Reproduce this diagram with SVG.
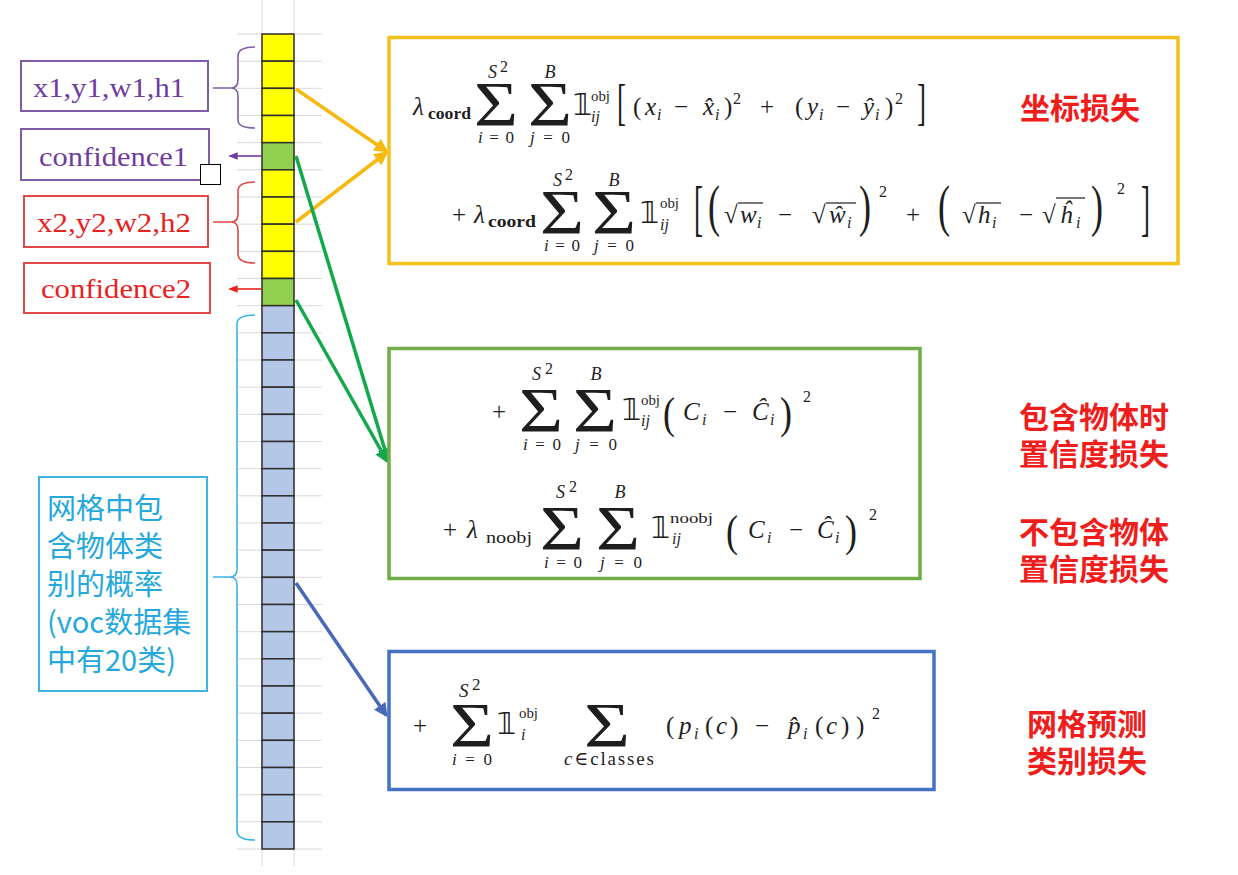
<svg xmlns="http://www.w3.org/2000/svg" width="1238" height="875" viewBox="0 0 1238 875">
<style>
.f{font-family:"Liberation Serif","DejaVu Serif",serif;fill:#1e1e1e}
.t{font-size:25px}
.it{font-style:italic}
.s{font-size:18px}
.sb{font-size:16px}
.lim{font-size:17px}
.sup{font-size:14px}
.sig{font-size:64px}
.one{font-family:"DejaVu Sans","DejaVu Serif",sans-serif;font-size:30px;fill:#1e1e1e}
.big{font-size:36px}
.ov{stroke:#1e1e1e;stroke-width:1.2}
.cell{stroke:#2e2e2e;stroke-width:1.5}
.cy{fill:#ffff00}.cg{fill:#92d050}.cb{fill:#b4c7e7}
.grid{stroke:#d9d9d9;stroke-width:1}
.lbl{font-family:"Liberation Serif","DejaVu Serif",serif;font-size:28px}
.cn{font-family:"Noto Sans CJK SC","Noto Sans",sans-serif}
.red{font-family:"Noto Sans CJK SC","Noto Sans",sans-serif;font-size:30px;font-weight:bold;fill:#f01d1d}
</style>
<defs>
<marker id="ao" viewBox="0 0 10 10" refX="8" refY="5" markerWidth="4" markerHeight="4" orient="auto" markerUnits="strokeWidth"><path d="M0,0 L10,5 L0,10 z" fill="#f5b90f"/></marker>
<marker id="ag" viewBox="0 0 10 10" refX="8" refY="5" markerWidth="4" markerHeight="4" orient="auto" markerUnits="strokeWidth"><path d="M0,0 L10,5 L0,10 z" fill="#12a84b"/></marker>
<marker id="ab" viewBox="0 0 10 10" refX="8" refY="5" markerWidth="4" markerHeight="4" orient="auto" markerUnits="strokeWidth"><path d="M0,0 L10,5 L0,10 z" fill="#4a68b8"/></marker>
<marker id="ap" viewBox="0 0 10 10" refX="8" refY="5" markerWidth="6" markerHeight="6" orient="auto" markerUnits="strokeWidth"><path d="M0,1 L10,5 L0,9 z" fill="#6f3da0"/></marker>
<marker id="ar" viewBox="0 0 10 10" refX="8" refY="5" markerWidth="6" markerHeight="6" orient="auto" markerUnits="strokeWidth"><path d="M0,1 L10,5 L0,9 z" fill="#e8221f"/></marker>
</defs>
<rect width="1238" height="875" fill="#ffffff"/>

<g id="grid">
<line class="grid" x1="262" y1="0" x2="262" y2="866"/>
<line class="grid" x1="294" y1="0" x2="294" y2="866"/>
<path class="grid" d="M237,34H322M237,61.17H322M237,88.33H322M237,115.5H322M237,142.67H322M237,169.83H322M237,197H322M237,224.17H322M237,251.33H322M237,278.5H322M237,305.67H322M237,332.83H322M237,360H322M237,387.17H322M237,414.33H322M237,441.5H322M237,468.67H322M237,495.83H322M237,523H322M237,550.17H322M237,577.33H322M237,604.5H322M237,631.67H322M237,658.83H322M237,686H322M237,713.17H322M237,740.33H322M237,767.5H322M237,794.67H322M237,821.83H322M237,849H322"/>
</g>

<g id="vector">
<rect class="cell cy" x="262" y="34" width="32" height="27.17"/>
<rect class="cell cy" x="262" y="61.17" width="32" height="27.17"/>
<rect class="cell cy" x="262" y="88.33" width="32" height="27.17"/>
<rect class="cell cy" x="262" y="115.5" width="32" height="27.17"/>
<rect class="cell cg" x="262" y="142.67" width="32" height="27.17"/>
<rect class="cell cy" x="262" y="169.83" width="32" height="27.17"/>
<rect class="cell cy" x="262" y="197" width="32" height="27.17"/>
<rect class="cell cy" x="262" y="224.17" width="32" height="27.17"/>
<rect class="cell cy" x="262" y="251.33" width="32" height="27.17"/>
<rect class="cell cg" x="262" y="278.5" width="32" height="27.17"/>
<rect class="cell cb" x="262" y="305.67" width="32" height="27.17"/>
<rect class="cell cb" x="262" y="332.83" width="32" height="27.17"/>
<rect class="cell cb" x="262" y="360" width="32" height="27.17"/>
<rect class="cell cb" x="262" y="387.17" width="32" height="27.17"/>
<rect class="cell cb" x="262" y="414.33" width="32" height="27.17"/>
<rect class="cell cb" x="262" y="441.5" width="32" height="27.17"/>
<rect class="cell cb" x="262" y="468.67" width="32" height="27.17"/>
<rect class="cell cb" x="262" y="495.83" width="32" height="27.17"/>
<rect class="cell cb" x="262" y="523" width="32" height="27.17"/>
<rect class="cell cb" x="262" y="550.17" width="32" height="27.17"/>
<rect class="cell cb" x="262" y="577.33" width="32" height="27.17"/>
<rect class="cell cb" x="262" y="604.5" width="32" height="27.17"/>
<rect class="cell cb" x="262" y="631.67" width="32" height="27.17"/>
<rect class="cell cb" x="262" y="658.83" width="32" height="27.17"/>
<rect class="cell cb" x="262" y="686" width="32" height="27.17"/>
<rect class="cell cb" x="262" y="713.17" width="32" height="27.17"/>
<rect class="cell cb" x="262" y="740.33" width="32" height="27.17"/>
<rect class="cell cb" x="262" y="767.5" width="32" height="27.17"/>
<rect class="cell cb" x="262" y="794.67" width="32" height="27.17"/>
<rect class="cell cb" x="262" y="821.83" width="32" height="27.17"/>
</g>

<g id="box1-label">
<rect x="21" y="61" width="187" height="50" fill="#fff" stroke="#7e5ca8" stroke-width="2"/>
<text class="lbl" x="33" y="97" fill="#6f3da0" textLength="152" lengthAdjust="spacingAndGlyphs">x1,y1,w1,h1</text>
</g>
<g id="conf1-label">
<rect x="21" y="129" width="188" height="51" fill="#fff" stroke="#7e5ca8" stroke-width="2"/>
<text class="lbl" x="39" y="166" fill="#6f3da0" textLength="149" lengthAdjust="spacingAndGlyphs">confidence1</text>
</g>
<g id="box2-label">
<rect x="24" y="196" width="184" height="51" fill="#fff" stroke="#e04848" stroke-width="2"/>
<text class="lbl" x="37" y="232" fill="#e8221f" textLength="154" lengthAdjust="spacingAndGlyphs">x2,y2,w2,h2</text>
</g>
<g id="conf2-label">
<rect x="24" y="263" width="186" height="50" fill="#fff" stroke="#e04848" stroke-width="2"/>
<text class="lbl" x="41" y="298" fill="#e8221f" textLength="150" lengthAdjust="spacingAndGlyphs">confidence2</text>
</g>
<g id="marker-square">
<rect x="200.5" y="164.5" width="20" height="20" fill="#fff" stroke="#000" stroke-width="1"/>
</g>
<g id="class-label">
<rect x="39" y="477" width="168" height="214" fill="#fff" stroke="#3db4e2" stroke-width="2"/>
<g class="cn" font-size="29" fill="#25a8dc">
<text x="47" y="519">网格中包</text>
<text x="47" y="557">含物体类</text>
<text x="47" y="595">别的概率</text>
<text x="47" y="633">(voc数据集</text>
<text x="47" y="671">中有20类)</text>
</g>
</g>

<g id="connectors" fill="none">
<path d="M255,47 Q238,47 238,56 L238,80 Q238,88 231,88 Q238,88 238,96 L238,120 Q238,128 255,128 M213,88 L231,88" stroke="#7e5ca8" stroke-width="1.6"/>
<path d="M255,182 Q238,182 238,191 L238,214 Q238,222 231,222 Q238,222 238,230 L238,254 Q238,263 255,263 M213,222 L231,222" stroke="#e04848" stroke-width="1.6"/>
<path d="M255,315 Q237,315 237,324 L237,569 Q237,577 230,577 Q237,577 237,585 L237,831 Q237,840 255,840 M213,577 L230,577" stroke="#3db4e2" stroke-width="1.6"/>
<line x1="262" y1="156" x2="230" y2="156" stroke="#6f3da0" stroke-width="1.6" marker-end="url(#ap)"/>
<line x1="262" y1="289" x2="230" y2="289" stroke="#e8221f" stroke-width="1.6" marker-end="url(#ar)"/>
<line x1="296" y1="89" x2="386" y2="151" stroke="#f5b90f" stroke-width="3.5" marker-end="url(#ao)"/>
<line x1="296" y1="222" x2="386" y2="153" stroke="#f5b90f" stroke-width="3.5" marker-end="url(#ao)"/>
<line x1="296" y1="156" x2="388" y2="460" stroke="#12a84b" stroke-width="3.5" marker-end="url(#ag)"/>
<line x1="296" y1="300" x2="387" y2="461" stroke="#12a84b" stroke-width="3.5" marker-end="url(#ag)"/>
<line x1="296" y1="583" x2="386" y2="715" stroke="#4a68b8" stroke-width="3.5" marker-end="url(#ab)"/>
</g>

<g id="coord-loss">
<rect x="389" y="37.5" width="789" height="226" fill="#fff" stroke="#f5c01a" stroke-width="3.5"/>
<text class="f t it" x="413" y="115">λ</text>
<text class="f sb" font-weight="bold" x="428" y="119" textLength="43" lengthAdjust="spacingAndGlyphs">coord</text>
<text class="f sig" x="474" y="126" textLength="44" lengthAdjust="spacingAndGlyphs">Σ</text>
<text class="f s it" x="488" y="78">S</text>
<text class="f sb" x="500" y="72">2</text>
<text class="f lim" x="496" y="143" text-anchor="middle" textLength="36"><tspan font-style="italic">i</tspan>=0</text>
<text class="f sig" x="528" y="126" textLength="44" lengthAdjust="spacingAndGlyphs">Σ</text>
<text class="f s it" x="550" y="78" text-anchor="middle">B</text>
<text class="f lim" x="550" y="143" text-anchor="middle" textLength="40"><tspan font-style="italic">j</tspan>=0</text>
<text class="one" x="573" y="115">𝟙</text>
<text class="f sup" x="591" y="101" textLength="19" lengthAdjust="spacingAndGlyphs">obj</text>
<text class="f sb it" x="591" y="122">ij</text>
<text class="f big" transform="translate(617,119) scale(0.75,1.4)">[</text>
<text class="f t" x="633" y="115">(</text>
<text class="f t it" x="645" y="115">x</text>
<text class="f sb it" x="657" y="120">i</text>
<text class="f t" x="674" y="115">−</text>
<text class="f t it" x="703" y="115">x&#770;</text>
<text class="f sb it" x="715" y="120">i</text>
<text class="f t" x="724" y="115">)</text>
<text class="f sb" x="733" y="104">2</text>
<text class="f t" x="760" y="115">+</text>
<text class="f t" x="795" y="115">(</text>
<text class="f t it" x="807" y="115">y</text>
<text class="f sb it" x="819" y="120">i</text>
<text class="f t" x="836" y="115">−</text>
<text class="f t it" x="863" y="115">ŷ</text>
<text class="f sb it" x="875" y="120">i</text>
<text class="f t" x="885" y="115">)</text>
<text class="f sb" x="895" y="104">2</text>
<text class="f big" transform="translate(917,119) scale(0.75,1.4)">]</text>

<text class="f t" x="452" y="223">+</text>
<text class="f t it" x="474" y="223">λ</text>
<text class="f sb" font-weight="bold" x="488" y="227" textLength="48" lengthAdjust="spacingAndGlyphs">coord</text>
<text class="f sig" x="540" y="234" textLength="44" lengthAdjust="spacingAndGlyphs">Σ</text>
<text class="f s it" x="553" y="186">S</text>
<text class="f sb" x="565" y="180">2</text>
<text class="f lim" x="562" y="251" text-anchor="middle" textLength="36"><tspan font-style="italic">i</tspan>=0</text>
<text class="f sig" x="592" y="234" textLength="44" lengthAdjust="spacingAndGlyphs">Σ</text>
<text class="f s it" x="614" y="186" text-anchor="middle">B</text>
<text class="f lim" x="614" y="251" text-anchor="middle" textLength="40"><tspan font-style="italic">j</tspan>=0</text>
<text class="one" x="640" y="223">𝟙</text>
<text class="f sup" x="660" y="208" textLength="19" lengthAdjust="spacingAndGlyphs">obj</text>
<text class="f sb it" x="660" y="230">ij</text>
<text class="f big" transform="translate(694,229) scale(0.75,1.7)">[</text>
<text class="f big" transform="translate(708,225) scale(1,1.6)">(</text>
<text class="f t" x="724" y="223">√</text>
<line class="ov" x1="738" y1="203" x2="763" y2="203"/>
<text class="f t it" x="740" y="223">w</text>
<text class="f sb it" x="757" y="228">i</text>
<text class="f t" x="778" y="223">−</text>
<text class="f t" x="812" y="223">√</text>
<line class="ov" x1="826" y1="203" x2="856" y2="203"/>
<text class="f t it" x="829" y="223">ŵ</text>
<text class="f sb it" x="847" y="228">i</text>
<text class="f big" transform="translate(859,225) scale(1,1.6)">)</text>
<text class="f sb" x="879" y="197">2</text>
<text class="f t" x="906" y="223">+</text>
<text class="f big" transform="translate(938,225) scale(1,1.6)">(</text>
<text class="f t" x="962" y="223">√</text>
<line class="ov" x1="976" y1="203" x2="1001" y2="203"/>
<text class="f t it" x="978" y="223">h</text>
<text class="f sb it" x="992" y="228">i</text>
<text class="f t" x="1019" y="223">−</text>
<text class="f t" x="1042" y="223">√</text>
<line class="ov" x1="1056" y1="198" x2="1085" y2="198"/>
<text class="f t it" x="1060" y="223">ĥ</text>
<text class="f sb it" x="1076" y="228">i</text>
<text class="f big" transform="translate(1091,225) scale(1,1.6)">)</text>
<text class="f sb" x="1117" y="194">2</text>
<text class="f big" transform="translate(1141,229) scale(0.75,1.7)">]</text>
</g>

<g id="conf-loss">
<rect x="389" y="348.5" width="531" height="230" fill="#fff" stroke="#70ad47" stroke-width="3.5"/>
<text class="f t" x="492" y="420">+</text>
<text class="f sig" x="519" y="432" textLength="44" lengthAdjust="spacingAndGlyphs">Σ</text>
<text class="f s it" x="532" y="380">S</text>
<text class="f sb" x="545" y="374">2</text>
<text class="f lim" x="542" y="450" text-anchor="middle" textLength="38"><tspan font-style="italic">i</tspan>=0</text>
<text class="f sig" x="573" y="432" textLength="44" lengthAdjust="spacingAndGlyphs">Σ</text>
<text class="f s it" x="596" y="380" text-anchor="middle">B</text>
<text class="f lim" x="596" y="450" text-anchor="middle" textLength="42"><tspan font-style="italic">j</tspan>=0</text>
<text class="one" x="622" y="420">𝟙</text>
<text class="f sup" x="641" y="405" textLength="19" lengthAdjust="spacingAndGlyphs">obj</text>
<text class="f sb it" x="641" y="426">ij</text>
<text class="f big" transform="translate(663,428) scale(1,1.25)">(</text>
<text class="f t it" x="683" y="420">C</text>
<text class="f sb it" x="702" y="425">i</text>
<text class="f t" x="723" y="420">−</text>
<text class="f t it" x="752" y="420">Ĉ</text>
<text class="f sb it" x="770" y="425">i</text>
<text class="f big" transform="translate(780,428) scale(1,1.25)">)</text>
<text class="f sb" x="803" y="402">2</text>

<text class="f t" x="443" y="538">+</text>
<text class="f t it" x="467" y="538">λ</text>
<text class="f sb" x="486" y="543" textLength="46" lengthAdjust="spacingAndGlyphs">noobj</text>
<text class="f sig" x="540" y="550" textLength="44" lengthAdjust="spacingAndGlyphs">Σ</text>
<text class="f s it" x="556" y="498">S</text>
<text class="f sb" x="569" y="492">2</text>
<text class="f lim" x="563" y="568" text-anchor="middle" textLength="38"><tspan font-style="italic">i</tspan>=0</text>
<text class="f sig" x="596" y="550" textLength="44" lengthAdjust="spacingAndGlyphs">Σ</text>
<text class="f s it" x="620" y="498" text-anchor="middle">B</text>
<text class="f lim" x="621" y="568" text-anchor="middle" textLength="42"><tspan font-style="italic">j</tspan>=0</text>
<text class="one" x="651" y="538">𝟙</text>
<text class="f sup" x="670" y="523" textLength="43" lengthAdjust="spacingAndGlyphs">noobj</text>
<text class="f sb it" x="672" y="544">ij</text>
<text class="f big" transform="translate(726,546) scale(1,1.25)">(</text>
<text class="f t it" x="748" y="538">C</text>
<text class="f sb it" x="767" y="543">i</text>
<text class="f t" x="789" y="538">−</text>
<text class="f t it" x="817" y="538">Ĉ</text>
<text class="f sb it" x="835" y="543">i</text>
<text class="f big" transform="translate(845,546) scale(1,1.25)">)</text>
<text class="f sb" x="869" y="520">2</text>
</g>

<g id="class-loss">
<rect x="389" y="651.5" width="545" height="138" fill="#fff" stroke="#4472c4" stroke-width="3.5"/>
<text class="f t" x="413" y="734">+</text>
<text class="f sig" x="450" y="747" textLength="44" lengthAdjust="spacingAndGlyphs">Σ</text>
<text class="f it" font-size="19" x="459" y="697">S</text>
<text class="f" font-size="17" x="472" y="690">2</text>
<text class="f lim" x="472" y="765" text-anchor="middle" textLength="40"><tspan font-style="italic">i</tspan>=0</text>
<text class="one" x="497" y="734">𝟙</text>
<text class="f sup" x="519" y="718" textLength="19" lengthAdjust="spacingAndGlyphs">obj</text>
<text class="f sb it" x="521" y="740">i</text>
<text class="f sig" x="584" y="747" textLength="46" lengthAdjust="spacingAndGlyphs">Σ</text>
<text class="f" font-size="19" x="609" y="765" text-anchor="middle" textLength="90"><tspan font-style="italic">c</tspan>∈classes</text>
<text class="f t" x="666" y="734">(</text>
<text class="f t it" x="679" y="734">p</text>
<text class="f sb it" x="694" y="739">i</text>
<text class="f t" x="705" y="734">(</text>
<text class="f t it" x="716" y="734">c</text>
<text class="f t" x="730" y="734">)</text>
<text class="f t" x="755" y="734">−</text>
<text class="f t it" x="788" y="734">p&#770;</text>
<text class="f sb it" x="803" y="739">i</text>
<text class="f t" x="815" y="734">(</text>
<text class="f t it" x="826" y="734">c</text>
<text class="f t" x="841" y="734">)</text>
<text class="f t" x="856" y="734">)</text>
<text class="f sb" x="872" y="719">2</text>
</g>

<g id="red-labels">
<text class="red" x="1020" y="119">坐标损失</text>
<text class="red" x="1019" y="428">包含物体时</text>
<text class="red" x="1019" y="465">置信度损失</text>
<text class="red" x="1019" y="543">不包含物体</text>
<text class="red" x="1019" y="580">置信度损失</text>
<text class="red" font-size="29" x="1027" y="735">网格预测</text>
<text class="red" font-size="29" x="1027" y="772">类别损失</text>
</g>
</svg>
